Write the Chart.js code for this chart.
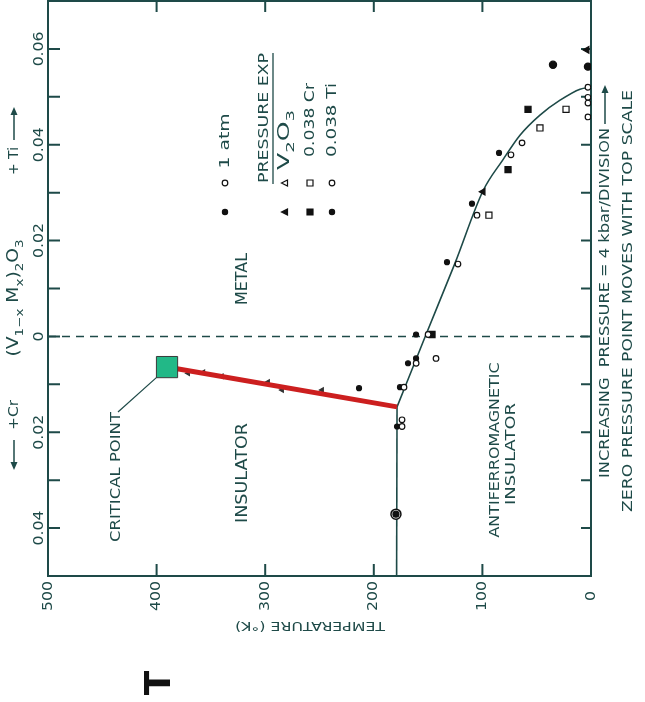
<!DOCTYPE html>
<html>
<head>
<meta charset="utf-8">
<script src="https://cdn.jsdelivr.net/npm/chart.js@4.4.1/dist/chart.umd.min.js"></script>
<style>
  html, body { margin: 0; padding: 0; background: #fff; }
</style>
</head>
<body>
<canvas id="chart" width="645" height="702"></canvas>
<script>
// --- Data (temperature K, composition x; + = Ti side, - = Cr side) ---
const tempTicks = [400, 300, 200, 100];
const tempLabels = [500, 400, 300, 200, 100, 0];
const compTicks = [-0.04, -0.03, -0.02, -0.01, 0, 0.01, 0.02, 0.03, 0.04, 0.05, 0.06];
const compLabels = [-0.04, -0.02, 0, 0.02, 0.04, 0.06];
const compLabelText = ['0.04', '0.02', '0', '0.02', '0.04', '0.06'];

const boundaryCurve = [[178.6, -0.0147], [151.9, 0.0004], [125.2, 0.0153], [99.4, 0.0304], [81.0, 0.0369],
                       [65.4, 0.0420], [47.0, 0.0462], [28.5, 0.0493], [10.1, 0.0516], [0, 0.0520]];
const afLine = [[179, -0.05], [178.6, -0.0147]];
const zeroLine = [[500, 0], [0, 0]];
const criticalLine = [[390.4, -0.0064], [178.6, -0.0147]];
const criticalPoint = [[390.4, -0.0064]];

const openCircles = [[2.8, 0.0520], [2.8, 0.0499], [2.8, 0.0487], [2.8, 0.0458], [63.5, 0.0404], [73.7, 0.0379],
                     [105, 0.0253], [122.5, 0.0151], [150, 0.0004], [142.7, -0.0046], [161, -0.0056],
                     [172.2, -0.0106], [174, -0.0174], [174, -0.0188]];
const smallDots = [[84.7, 0.0383], [109.6, 0.0277], [132.6, 0.0155], [161.1, 0.0004], [168.5, -0.0056],
                   [175.9, -0.0106], [178.6, -0.0188], [213.6, -0.0108], [161.1, -0.0046]];
const bigDots = [[35, 0.0567], [2.8, 0.0563]];
const circledDot = [[179.6, -0.0371]];
const filledSquares = [[58, 0.0474], [76.4, 0.0348], [146.4, 0.0004]];
const openSquares = [[23, 0.0474], [47, 0.0435], [94, 0.0253]];
const filledTriangles = [[3.7, 0.0598], [99.4, 0.0302]];
const criticalLinePoints = [[371, -0.0077], [357, -0.0075], [340, -0.0083], [297.4, -0.0095], [284.5, -0.0112], [247.7, -0.0112]];

const INK = '#1e4a48';
const pts = arr => arr.map(([x, y]) => ({ x, y }));

// --- Drawing helpers (text is rotated like the original page) ---
function rtext(ctx, str, x, y, o) {
    o = o || {};
    ctx.save();
    ctx.font = (o.bold ? 'bold ' : '') + (o.size || 14) + 'px "DejaVu Sans"';
    const w = ctx.measureText(str).width;
    const sx = o.len ? o.len / w : (o.sx || 1);
    ctx.translate(x, y);
    ctx.rotate((o.rot === undefined ? -90 : o.rot) * Math.PI / 180);
    ctx.scale(sx, 1);
    ctx.fillStyle = o.color || INK;
    ctx.textBaseline = 'middle';
    ctx.textAlign = 'left';
    ctx.fillText(str, -w / 2, 0);
    ctx.restore();
}

function rich(ctx, segs, x, y, size, len) {
    ctx.save();
    const f = s => s + 'px "DejaVu Sans"';
    let w = 0;
    segs.forEach(([t, sub]) => { ctx.font = f(sub ? size * 0.72 : size); w += ctx.measureText(t).width; });
    ctx.translate(x, y);
    ctx.rotate(-Math.PI / 2);
    ctx.scale(len / w, 1);
    ctx.fillStyle = INK;
    ctx.textBaseline = 'middle';
    let cx = -w / 2;
    segs.forEach(([t, sub]) => {
        ctx.font = f(sub ? size * 0.72 : size);
        ctx.fillText(t, cx, sub ? size * 0.38 : 0);
        cx += ctx.measureText(t).width;
    });
    ctx.restore();
}

function arrow(ctx, x1, y1, x2, y2) {
    const a = Math.atan2(y2 - y1, x2 - x1);
    ctx.save();
    ctx.strokeStyle = INK; ctx.fillStyle = INK; ctx.lineWidth = 1.5;
    ctx.beginPath(); ctx.moveTo(x1, y1); ctx.lineTo(x2 - 5 * Math.cos(a), y2 - 5 * Math.sin(a)); ctx.stroke();
    ctx.beginPath();
    ctx.moveTo(x2, y2);
    ctx.lineTo(x2 - 8 * Math.cos(a) + 3.5 * Math.sin(a), y2 - 8 * Math.sin(a) - 3.5 * Math.cos(a));
    ctx.lineTo(x2 - 8 * Math.cos(a) - 3.5 * Math.sin(a), y2 - 8 * Math.sin(a) + 3.5 * Math.cos(a));
    ctx.closePath(); ctx.fill();
    ctx.restore();
}

function sym(ctx, kind, x, y, filled) {
    ctx.save();
    ctx.strokeStyle = '#111'; ctx.fillStyle = filled ? '#111' : '#fff'; ctx.lineWidth = 1.2;
    ctx.beginPath();
    if (kind === 'circle') ctx.arc(x, y, filled ? 2.6 : 2.8, 0, Math.PI * 2);
    if (kind === 'rect') ctx.rect(x - 3, y - 3, 6, 6);
    if (kind === 'tri') { ctx.moveTo(x - 3.5, y); ctx.lineTo(x + 2.5, y - 3); ctx.lineTo(x + 2.5, y + 3); ctx.closePath(); }
    ctx.fill(); ctx.stroke();
    ctx.restore();
}

const decorPlugin = {
    id: 'decor',
    beforeDatasetsDraw(chart) {
        const { ctx, chartArea: a, scales: { x, y } } = chart;
        ctx.save();
        ctx.strokeStyle = INK;
        ctx.lineWidth = 2;
        ctx.strokeRect(a.left, a.top, a.right - a.left, a.bottom - a.top);
        ctx.beginPath();
        compTicks.forEach(v => {
            const py = y.getPixelForValue(v);
            ctx.moveTo(a.left, py); ctx.lineTo(a.left + 12, py);
            ctx.moveTo(a.right, py); ctx.lineTo(a.right - 10, py);
        });
        tempTicks.forEach(v => {
            const px = x.getPixelForValue(v);
            ctx.moveTo(px, a.bottom); ctx.lineTo(px, a.bottom - 12);
            ctx.moveTo(px, a.top); ctx.lineTo(px, a.top + 11);
        });
        ctx.stroke();
        // leader line to "CRITICAL POINT"
        const cpx = x.getPixelForValue(criticalPoint[0][0]), cpy = y.getPixelForValue(criticalPoint[0][1]);
        ctx.lineWidth = 1.2;
        ctx.beginPath(); ctx.moveTo(cpx - 9, cpy + 9); ctx.lineTo(118, 412); ctx.stroke();
        ctx.restore();
    },
    afterDraw(chart) {
        const { ctx, scales: { x, y } } = chart;
        // tick labels
        compLabels.forEach((v, i) => rtext(ctx, compLabelText[i], 39, y.getPixelForValue(v), { size: 14, sx: 1.12 }));
        tempLabels.forEach(v => rtext(ctx, String(v), x.getPixelForValue(v), 596, { size: 14, sx: 1.12 }));
        rtext(ctx, 'TEMPERATURE (°K)', 310, 625, { size: 13, len: 150, rot: 180 });
        rtext(ctx, 'T', 161, 683, { size: 36, bold: true, color: '#111' });

        // left side labels
        rtext(ctx, '+ Ti', 14, 161, { size: 14, len: 28 });
        arrow(ctx, 14, 140, 14, 107);
        rich(ctx, [['(V', 0], ['1−x', 1], [' M', 0], ['x', 1], [')', 0], ['2', 1], ['O', 0], ['3', 1]], 14, 298, 15, 117);
        rtext(ctx, '+Cr', 14, 415, { size: 14, len: 30 });
        arrow(ctx, 14, 440, 14, 470);

        // region labels
        rtext(ctx, 'CRITICAL POINT', 116, 477, { size: 14, len: 130 });
        rtext(ctx, 'METAL', 243, 279, { size: 15, len: 52 });
        rtext(ctx, 'INSULATOR', 243, 473, { size: 15, len: 100 });
        rtext(ctx, 'ANTIFERROMAGNETIC', 495, 450, { size: 14, len: 175 });
        rtext(ctx, 'INSULATOR', 511, 454, { size: 14, len: 102 });

        // legend
        rtext(ctx, '1 atm', 225, 141, { size: 14, len: 55 });
        sym(ctx, 'circle', 225, 183, false); sym(ctx, 'circle', 225, 212, true);
        rtext(ctx, 'PRESSURE EXP', 264, 118, { size: 14, len: 130 });
        ctx.save(); ctx.strokeStyle = INK; ctx.lineWidth = 1.3;
        ctx.beginPath(); ctx.moveTo(273, 53); ctx.lineTo(273, 184); ctx.stroke(); ctx.restore();
        rich(ctx, [['V', 0], ['2', 1], ['O', 0], ['3', 1]], 285, 140, 15, 60);
        sym(ctx, 'tri', 285, 183, false); sym(ctx, 'tri', 285, 212, true);
        rtext(ctx, '0.038 Cr', 310, 120, { size: 14, len: 74 });
        sym(ctx, 'rect', 310, 183, false); sym(ctx, 'rect', 310, 212, true);
        rtext(ctx, '0.038 Ti', 332, 120, { size: 14, len: 74 });
        sym(ctx, 'circle', 332, 183, false); sym(ctx, 'circle', 332, 212, true);

        // right side notes
        rtext(ctx, 'INCREASING  PRESSURE = 4 kbar/DIVISION', 605, 303, { size: 14, len: 350 });
        arrow(ctx, 605, 124, 605, 85);
        rtext(ctx, 'ZERO PRESSURE POINT MOVES WITH TOP SCALE', 628, 301, { size: 14, len: 422 });
    }
};

const markerBase = { showLine: false, borderColor: '#111', borderWidth: 1.2, order: 2 };

new Chart(document.getElementById('chart'), {
    type: 'scatter',
    data: {
        datasets: [
            { data: pts(criticalPoint), pointStyle: 'rect', pointRadius: 15, backgroundColor: '#22b887',
              borderColor: '#3a3a3a', borderWidth: 1, order: 0 },
            { ...markerBase, data: pts(openCircles), pointStyle: 'circle', pointRadius: 2.8, backgroundColor: '#fff' },
            { ...markerBase, data: pts(smallDots), pointStyle: 'circle', pointRadius: 2.5, backgroundColor: '#111' },
            { ...markerBase, data: pts(bigDots), pointStyle: 'circle', pointRadius: 3.6, backgroundColor: '#111' },
            { ...markerBase, data: pts(circledDot), pointStyle: 'circle', pointRadius: 5, backgroundColor: '#fff', borderWidth: 1.5 },
            { ...markerBase, data: pts(circledDot), pointStyle: 'circle', pointRadius: 3, backgroundColor: '#111', order: 1 },
            { ...markerBase, data: pts(filledSquares), pointStyle: 'rect', pointRadius: 4.3, backgroundColor: '#111' },
            { ...markerBase, data: pts(openSquares), pointStyle: 'rect', pointRadius: 4.3, backgroundColor: '#fff' },
            { ...markerBase, data: pts(filledTriangles), pointStyle: 'triangle', rotation: -90, pointRadius: 3.8, backgroundColor: '#111' },
            { data: pts(criticalLine), showLine: true, pointRadius: 0, borderColor: '#cc1f1f', borderWidth: 5, order: 3 },
            { ...markerBase, data: pts(criticalLinePoints), pointStyle: 'triangle', rotation: -90, pointRadius: 2.6,
              backgroundColor: '#333', borderColor: '#333', order: 4 },
            { data: pts(boundaryCurve), showLine: true, pointRadius: 0, borderColor: INK, borderWidth: 1.6,
              cubicInterpolationMode: 'monotone', order: 5 },
            { data: pts(afLine), showLine: true, pointRadius: 0, borderColor: INK, borderWidth: 1.6, order: 5 },
            { data: pts(zeroLine), showLine: true, pointRadius: 0, borderColor: INK, borderWidth: 1.5,
              borderDash: [8, 6], order: 5 }
        ]
    },
    options: {
        responsive: false,
        animation: false,
        events: [],
        layout: { autoPadding: false, padding: { left: 48, right: 54, top: 1, bottom: 126 } },
        plugins: { legend: { display: false }, tooltip: { enabled: false } },
        scales: {
            x: { type: 'linear', display: false, min: 0, max: 500, reverse: true },
            y: { type: 'linear', display: false, min: -0.05, max: 0.07 }
        }
    },
    plugins: [decorPlugin]
});
</script>
</body>
</html>
